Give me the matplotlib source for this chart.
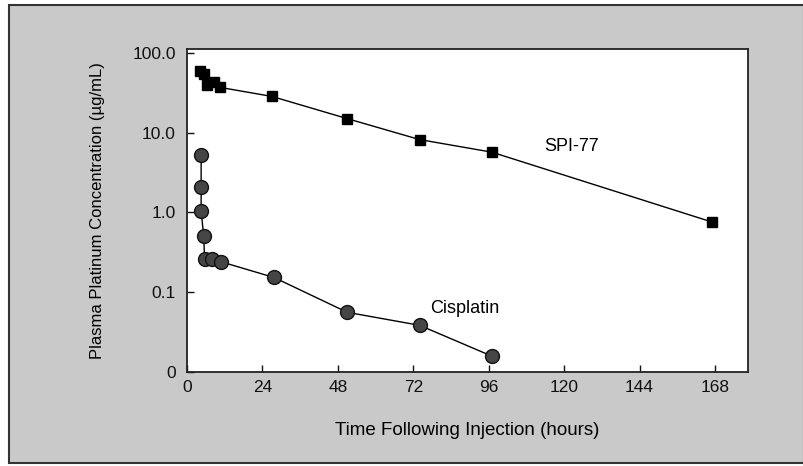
import matplotlib.pyplot as plt
from matplotlib.patches import Rectangle
from matplotlib.ticker import FixedLocator, FixedFormatter

plt.rcParams['font.family'] = ['Liberation Sans', 'DejaVu Sans']

# SPI-77 (squares)
spi_t = [4, 5.5, 6.5, 8.5, 10.5, 27, 51, 74, 97, 167]
spi_c = [59, 55, 40, 43, 37, 28.5, 15, 8.2, 5.7, 0.76]

# Cisplatin (circles)
cis_t = [4.5, 4.5, 4.5, 5.3, 5.6, 8, 10.8, 27.7, 51, 74, 97]
cis_c = [5.2, 2.1, 1.04, 0.51, 0.263, 0.262, 0.241, 0.153, 0.056, 0.0385, 0.0158]

xticks = [0, 24, 48, 72, 96, 120, 144, 168]
yticks = [0.01, 0.1, 1, 10, 100]
ylabels = ['0', '0.1', '1.0', '10.0', '100.0']

W, H = 804, 466
fig = plt.figure(figsize=(W / 100, H / 100), dpi=100, facecolor='white')

# grey scanned panel with dark frame
fig.patches.append(Rectangle((9 / W, 3 / H), (W - 9) / W, (461 - 3) / H,
                             transform=fig.transFigure, facecolor='#c9c9c9',
                             edgecolor='#333333', linewidth=1.5, zorder=-10))

ax = fig.add_axes([187 / W, (H - 372) / H, (748 - 187) / W, (372 - 49) / H])
ax.set_zorder(1)
ax.set_facecolor('white')

ax.plot(spi_t, spi_c, color='black', linewidth=1.0, marker='s',
        markersize=6.5, markerfacecolor='black', markeredgecolor='black')
ax.plot(cis_t, cis_c, color='black', linewidth=1.0, marker='o',
        markersize=10, markerfacecolor='#454545', markeredgecolor='#111111',
        markeredgewidth=1.0)

ax.set_yscale('log')
ax.set_xlim(0, 178.5)
ax.set_ylim(0.01, 112)
ax.xaxis.set_major_locator(FixedLocator(xticks))
ax.yaxis.set_major_locator(FixedLocator(yticks))
ax.yaxis.set_major_formatter(FixedFormatter(ylabels))
ax.yaxis.set_minor_locator(FixedLocator([]))
ax.tick_params(direction='in', length=5, width=1, labelsize=12.5, pad=8,
               colors='#111111')
ax.tick_params(axis='x', pad=6)

for s in ax.spines.values():
    s.set_linewidth(1.3)
    s.set_color('#222222')

ax.text(113.5, 6.8, 'SPI-77', fontsize=13, ha='left', va='center')
ax.text(77.5, 0.062, 'Cisplatin', fontsize=13, ha='left', va='center')

ax.set_xlabel('Time Following Injection (hours)', fontsize=13.5, labelpad=19)
ax.set_ylabel('Plasma Platinum Concentration (\u00b5g/mL)', fontsize=12,
              labelpad=20)

fig.savefig('out.png', dpi=100, facecolor=fig.get_facecolor())
